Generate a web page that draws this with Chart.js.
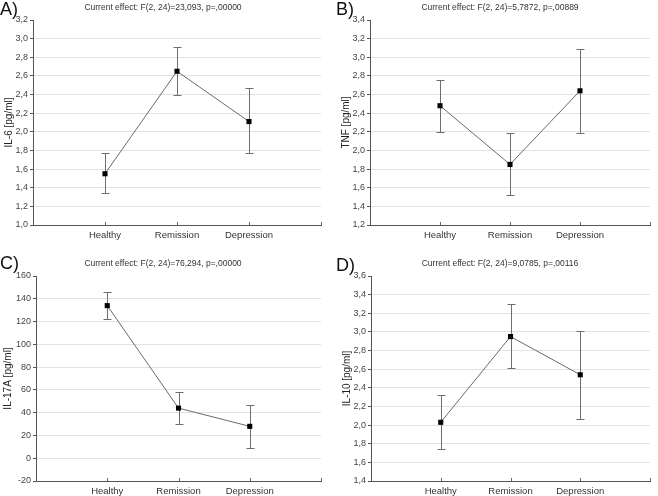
<!DOCTYPE html>
<html>
<head>
<meta charset="utf-8">
<script src="https://cdn.jsdelivr.net/npm/chart.js@4"></script>
<style>
  body { margin: 0; background: #fff; font-family: 'Liberation Sans', Arial, sans-serif; }
  #wrap { position: relative; width: 658px; height: 496px; overflow: hidden; }
  .panel { position: absolute; width: 329px; height: 248px; }
  .letter { position: absolute; font-size: 18px; color: #111; line-height: 1; }
  .title { position: absolute; font-size: 8.5px; color: #333; white-space: nowrap; transform: translateX(-50%); }
</style>
</head>
<body>
<div id="wrap">
  <div class="panel" style="left:0;top:0"><canvas id="chartA" width="329" height="248"></canvas></div>
  <div class="panel" style="left:329px;top:0"><canvas id="chartB" width="329" height="248"></canvas></div>
  <div class="panel" style="left:0;top:248px"><canvas id="chartC" width="329" height="248"></canvas></div>
  <div class="panel" style="left:329px;top:248px"><canvas id="chartD" width="329" height="248"></canvas></div>

  <div class="letter" style="left:0;top:0">A)</div>
  <div class="letter" style="left:336px;top:0">B)</div>
  <div class="letter" style="left:0;top:254px">C)</div>
  <div class="letter" style="left:336px;top:256px">D)</div>

  <div class="title" style="left:163px;top:2px">Current effect: F(2, 24)=23,093, p=,00000</div>
  <div class="title" style="left:500px;top:2px">Current effect: F(2, 24)=5,7872, p=,00889</div>
  <div class="title" style="left:163px;top:258px">Current effect: F(2, 24)=76,294, p=,00000</div>
  <div class="title" style="left:500px;top:258px">Current effect: F(2, 24)=9,0785, p=,00116</div>
</div>
<script>
const categories = ['Healthy', 'Remission', 'Depression'];

// means and error bar ends
const il6Mean = [1.55, 2.65, 2.11];
const il6Low  = [1.34, 2.39, 1.77];
const il6High = [1.77, 2.91, 2.47];

const tnfMean = [2.48, 1.85, 2.64];
const tnfLow  = [2.20, 1.52, 2.19];
const tnfHigh = [2.76, 2.19, 3.09];

const il17Mean = [134, 44, 28];
const il17Low  = [122, 30, 9];
const il17High = [146, 58, 47];

const il10Mean = [2.03, 2.95, 2.54];
const il10Low  = [1.74, 2.61, 2.07];
const il10High = [2.32, 3.30, 3.01];

// y ranges: [min, max, step]
const il6Range  = [1.0, 3.2, 0.2];
const tnfRange  = [1.2, 3.4, 0.2];
const il17Range = [-20, 160, 20];
const il10Range = [1.4, 3.6, 0.2];

const FONT = "'Liberation Sans', Arial, sans-serif";

// pad the category axis with empty slots so the three groups sit at 1/4, 2/4, 3/4
const pad = arr => [null, ...arr, null];

const errorBars = {
    id: 'errorBars',
    beforeDatasetsDraw(chart) {
        const { ctx, scales: { x, y }, chartArea } = chart;
        const ds = chart.data.datasets[0];
        ctx.save();
        ctx.strokeStyle = '#6e6e6e';
        ctx.lineWidth = 1;
        ds.lower.forEach((lo, i) => {
            if (lo == null) return;
            const px = Math.round(x.getPixelForValue(i)) + 0.5;
            const y1 = Math.round(y.getPixelForValue(lo)) + 0.5;
            const y2 = Math.round(y.getPixelForValue(ds.upper[i])) + 0.5;
            ctx.beginPath();
            ctx.moveTo(px, y1); ctx.lineTo(px, y2);
            ctx.moveTo(px - 4, y1); ctx.lineTo(px + 4, y1);
            ctx.moveTo(px - 4, y2); ctx.lineTo(px + 4, y2);
            ctx.stroke();
        });
        // little inward ticks on the x axis at each group and at the right end
        ctx.strokeStyle = '#666';
        ctx.beginPath();
        const yb = chartArea.bottom;
        ds.lower.forEach((lo, i) => {
            if (lo == null && i !== ds.lower.length - 1) return;
            const px = Math.round(x.getPixelForValue(i)) + 0.5;
            ctx.moveTo(px, yb); ctx.lineTo(px, yb - 3);
        });
        ctx.stroke();
        ctx.restore();
    }
};

function makeChart(id, mean, low, high, range, yTitle, box, decimals, titlePad) {
    const [min, max, step] = range;
    new Chart(document.getElementById(id), {
        type: 'line',
        data: {
            labels: pad(categories).map(c => c || ''),
            datasets: [{
                data: pad(mean),
                lower: pad(low),
                upper: pad(high),
                borderColor: '#6a6a6a',
                borderWidth: 1,
                pointStyle: 'rect',
                pointRadius: 3.6,
                pointBackgroundColor: '#000',
                pointBorderColor: '#000',
                pointBorderWidth: 0,
                spanGaps: false
            }]
        },
        options: {
            responsive: false,
            animation: false,
            layout: { padding: { left: 0, top: box.top, right: 329 - box.right, bottom: 0 } },
            plugins: { legend: { display: false }, tooltip: { enabled: false }, title: { display: false } },
            scales: {
                x: {
                    offset: false,
                    afterFit: s => { s.height = 248 - box.bottom; },
                    grid: { display: false, drawTicks: false },
                    border: { display: true, color: '#555', width: 1 },
                    ticks: { color: '#333', font: { family: FONT, size: 9.5 }, padding: 5, maxRotation: 0, autoSkip: false }
                },
                y: {
                    min, max,
                    afterFit: s => { s.width = box.left; },
                    afterBuildTicks: s => {
                        s.ticks = [];
                        const n = Math.round((max - min) / step);
                        for (let k = 0; k <= n; k++) s.ticks.push({ value: +(min + k * step).toFixed(2) });
                    },
                    grid: {
                        color: c => (c.tick && c.tick.value === max) ? 'rgba(0,0,0,0)' : '#e2e2e2',
                        tickColor: '#555',
                        tickLength: 3,
                        lineWidth: 1
                    },
                    border: { display: true, color: '#555', width: 1 },
                    ticks: {
                        color: '#444',
                        padding: 2,
                        font: { family: FONT, size: 9 },
                        callback: v => v.toFixed(decimals).replace('.', ',')
                    },
                    title: {
                        display: true,
                        text: yTitle,
                        color: '#222',
                        font: { family: FONT, size: 10 },
                        padding: { top: titlePad, bottom: 0 }
                    }
                }
            }
        },
        plugins: [errorBars]
    });
}

makeChart('chartA', il6Mean, il6Low, il6High, il6Range, 'IL-6 [pg/ml]', { left: 33, top: 20, right: 321, bottom: 225 }, 1, 3);
makeChart('chartB', tnfMean, tnfLow, tnfHigh, tnfRange, 'TNF [pg/ml]', { left: 41, top: 20, right: 321, bottom: 225 }, 1, 11);
makeChart('chartC', il17Mean, il17Low, il17High, il17Range, 'IL-17A [pg/ml]', { left: 36, top: 28, right: 321, bottom: 233 }, 0, 2);
makeChart('chartD', il10Mean, il10Low, il10High, il10Range, 'IL-10 [pg/ml]', { left: 42, top: 28, right: 321, bottom: 233 }, 1, 12);
</script>
</body>
</html>
